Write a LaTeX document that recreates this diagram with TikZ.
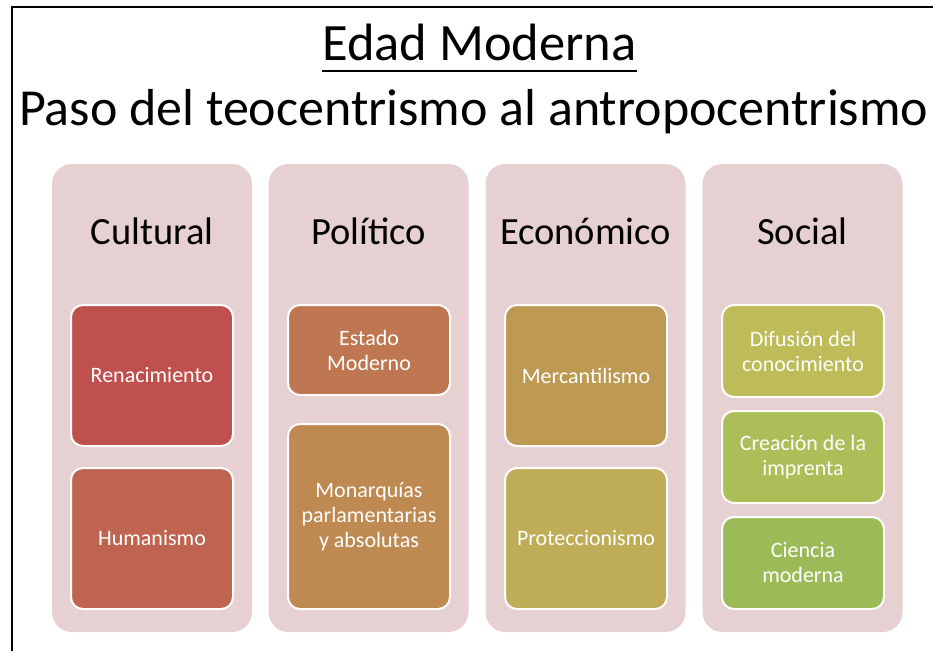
\documentclass[tikz,border=0pt]{standalone}
\usepackage{fontspec}
\setmainfont{Carlito}
\usetikzlibrary{positioning}

\definecolor{panelpink}{RGB}{231,208,209}
\definecolor{renacimiento}{RGB}{192,80,77}
\definecolor{humanismo}{RGB}{190,100,80}
\definecolor{estado}{RGB}{190,119,80}
\definecolor{monarquias}{RGB}{191,137,82}
\definecolor{mercantil}{RGB}{190,153,82}
\definecolor{proteccion}{RGB}{190,172,86}
\definecolor{difusion}{RGB}{189,188,88}
\definecolor{creacion}{RGB}{172,190,88}
\definecolor{ciencia}{RGB}{155,187,89}

\begin{document}
\begin{tikzpicture}[x=1pt,y=-1pt,
  panel/.style={fill=panelpink,rounded corners=20pt,minimum width=200pt,minimum height=468pt},
  item/.style={fill=#1,draw=white,line width=2pt,rounded corners=12pt,minimum width=162pt,
    text=white,align=center,font=\fontsize{22}{25}\selectfont},
  head/.style={anchor=base,font=\fontsize{38.5}{46}\selectfont}]
\useasboundingbox (0,0) rectangle (933,650);
% frame
\draw[line width=1.5pt] (12,660) -- (12,7) -- (945,7);
% titles
\node[anchor=base,inner sep=0pt,font=\fontsize{52.5}{60}\selectfont] (title) at (479.5,61) {Edad Moderna};
\draw[line width=2.4pt] ([yshift=-10pt]title.base west) -- ([yshift=-10pt]title.base east);
\node[anchor=base west,inner sep=0pt,font=\fontsize{52}{60}\selectfont] (subtitle) at (19,125) {Paso del teocentrismo al antropocentrismo};
% columns
\node[panel] (cultural) at (152,398) {};
\node[panel] (politico) at (368.5,398) {};
\node[panel] (economico) at (585.5,398) {};
\node[panel] (social) at (802.5,398) {};
\node[head] (culturalhead) at (152,244) {Cultural};
\node[head] (politicohead) at (368.5,244) {Político};
\node[head] (economicohead) at (585.5,244) {Económico};
\node[head] (socialhead) at (802.5,244) {Social};
% Cultural
\node[item=renacimiento,minimum height=141pt] (renac) at (152,375.5) {Renacimiento};
\node[item=humanismo,minimum height=141pt] (human) at (152,538.5) {Humanismo};
% Politico
\node[item=estado,minimum height=90pt] (estado) at (369,350) {Estado\\Moderno};
\node[item=monarquias,minimum height=185pt] (monarq) at (369,516.5) {Monarquías\\parlamentarias\\y absolutas};
% Economico
\node[item=mercantil,minimum height=141pt] (mercant) at (586,375.5) {Mercantilismo};
\node[item=proteccion,minimum height=141pt] (protecc) at (586,538.5) {Proteccionismo};
% Social
\node[item=difusion,minimum height=92pt] (difusion) at (803,351) {Difusión del\\conocimiento};
\node[item=creacion,minimum height=92pt] (creacion) at (803,457) {Creación de la\\imprenta};
\node[item=ciencia,minimum height=92pt] (ciencia) at (803,563) {Ciencia\\moderna};
\end{tikzpicture}
\end{document}
